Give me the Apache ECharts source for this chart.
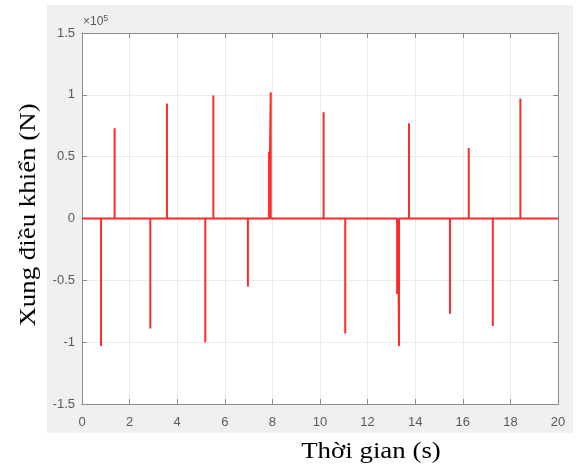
<!DOCTYPE html>
<html>
<head>
<meta charset="utf-8">
<script src="https://cdn.jsdelivr.net/npm/echarts@6/dist/echarts.min.js"></script>
<style>
    html, body { margin: 0; padding: 0; background: #fff; }
    #chart { width: 578px; height: 470px; }
</style>
</head>
<body>
<div id="chart"></div>
<script>
// pulse times (s) and amplitudes (N)
var pulseTimes = [0.80, 1.37, 2.87, 3.57, 5.18, 5.52, 6.97, 7.86, 7.93, 10.15, 11.06, 13.24, 13.28, 13.32, 13.74, 15.46, 16.25, 17.26, 18.42];
var pulseValues = [-103000, 73000, -89000, 93000, -100000, 99500, -55000, 54000, 102000, 86000, -93000, -61000, -61000, -103000, 77000, -77000, 57000, -87000, 97000];
var timeRange = [0, 20];
var xTicks = [0, 2, 4, 6, 8, 10, 12, 14, 16, 18, 20];
var yTicks = [-1.5, -1, -0.5, 0, 0.5, 1, 1.5]; // x 10^5 N

// build the line: flat at 0, with a vertical spike at each pulse
var lineData = [[timeRange[0], 0]];
for (var i = 0; i < pulseTimes.length; i++) {
    lineData.push([pulseTimes[i], 0]);
    lineData.push([pulseTimes[i], pulseValues[i]]);
    lineData.push([pulseTimes[i], 0]);
}
lineData.push([timeRange[1], 0]);

var axisGray = '#8a8a8a';
var labelGray = '#595959';

var baseX = {
    type: 'value',
    min: timeRange[0],
    max: timeRange[1],
    interval: xTicks[1] - xTicks[0],
    axisLine: { show: true, onZero: false, lineStyle: { color: axisGray, width: 1 } },
    axisTick: { show: true, inside: true, length: 5, lineStyle: { color: axisGray } },
    splitLine: { show: true, lineStyle: { color: '#ececec', width: 1 } },
    axisLabel: { color: labelGray, fontSize: 13, fontFamily: 'Liberation Sans', margin: 12 }
};
var baseY = {
    type: 'value',
    min: yTicks[0] * 1e5,
    max: yTicks[yTicks.length - 1] * 1e5,
    interval: (yTicks[1] - yTicks[0]) * 1e5,
    axisLine: { show: true, onZero: false, lineStyle: { color: axisGray, width: 1 } },
    axisTick: { show: true, inside: true, length: 5, lineStyle: { color: axisGray } },
    splitLine: { show: true, lineStyle: { color: '#ececec', width: 1 } },
    axisLabel: {
        color: labelGray, fontSize: 13, fontFamily: 'Liberation Sans', margin: 7,
        formatter: function (v) { return String(Math.round(v / 1e4) / 10); }
    }
};

var myChart = echarts.init(document.getElementById('chart'));
var option = {
    animation: false,
    backgroundColor: '#fff',
    grid: { left: 82, right: 20, top: 33, bottom: 66, backgroundColor: '#fff', show: true, borderWidth: 0 },
    xAxis: [
        baseX,
        Object.assign({}, baseX, { position: 'top', splitLine: { show: false }, axisLabel: { show: false } })
    ],
    yAxis: [
        baseY,
        Object.assign({}, baseY, { position: 'right', splitLine: { show: false }, axisLabel: { show: false } })
    ],
    graphic: [
        {
            type: 'rect', z: -10, silent: true,
            shape: { x: 47, y: 5, width: 526, height: 428 },
            style: { fill: '#f0f0f0' }
        },
        {
            type: 'text', left: 83, top: 14,
            style: {
                text: '{a|×10}{b|5}',
                rich: {
                    a: { fontSize: 12, fill: labelGray, fontFamily: 'Liberation Sans' },
                    b: { fontSize: 9, fill: labelGray, fontFamily: 'Liberation Sans', verticalAlign: 'top', padding: [0, 0, 6, 0] }
                }
            }
        },
        {
            type: 'text', x: 29, y: 215, rotation: Math.PI / 2, scaleX: 1.12,
            style: {
                text: 'Xung điều khiển (N)', fontSize: 24, fontFamily: 'Liberation Serif',
                fill: '#000', align: 'center', verticalAlign: 'middle'
            }
        },
        {
            type: 'text', x: 371, y: 452, scaleX: 1.12,
            style: {
                text: 'Thời gian (s)', fontSize: 24, fontFamily: 'Liberation Serif',
                fill: '#000', align: 'center', verticalAlign: 'middle'
            }
        }
    ],
    series: [{
        type: 'line',
        data: lineData,
        showSymbol: false,
        lineStyle: { color: '#ff2a2a', width: 2 },
        clip: true
    }]
};
myChart.setOption(option);
</script>
</body>
</html>
